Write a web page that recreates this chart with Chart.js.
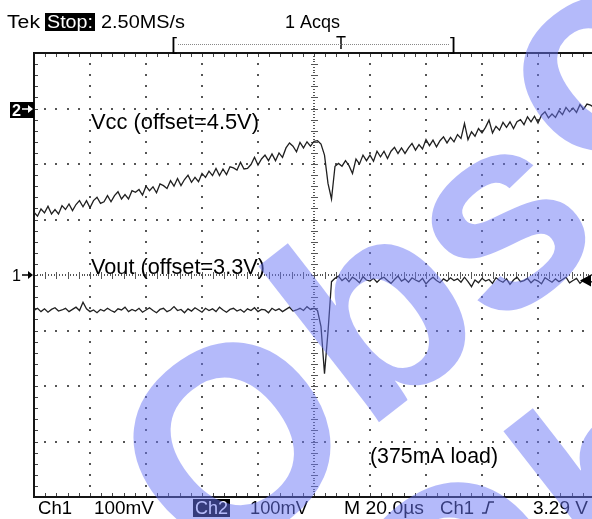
<!DOCTYPE html>
<html>
<head>
<meta charset="utf-8">
<title>Vcc / Vout load step</title>
<script src="https://cdn.jsdelivr.net/npm/chart.js@4.4.1/dist/chart.umd.min.js"></script>
<style>
  html, body { margin: 0; padding: 0; background: #fff; overflow: hidden; }
  #wrap { position: relative; width: 592px; height: 519px; overflow: hidden; }
  #scope { position: absolute; left: 0; top: 0; }
</style>
</head>
<body>
<div id="wrap"><canvas id="scope" width="600" height="519"></canvas></div>
<script>
// scope settings (20us/div, 100mV/div, 10 x 8 divisions)
let timePerDivUs = 20, mvPerDiv = 100
let firstSampleUs = -100, sampleStepUs = 1.25
let ch2PositionMv = 300      // Vcc trace marker "2" sits 3 div above centre
let triggerLevelMv = -10     // 3.29 V on ch1 (offset 3.3 V)

// Vcc, mV relative to 4.5 V
let vccMv = [
  -187,-194,-181,-188,-176,-190,-182,-190,-175,-182,
  -172,-184,-173,-166,-177,-166,-179,-166,-160,-171,
  -168,-157,-168,-157,-150,-163,-155,-163,-148,-151,
  -146,-156,-140,-148,-141,-152,-136,-139,-144,-130,
  -140,-126,-139,-128,-120,-133,-124,-132,-117,-124,
  -113,-121,-108,-121,-109,-119,-105,-107,-111,-97,
  -109,-108,-101,-88,-102,-91,-84,-94,-82,-94,
  -80,-88,-71,-62,-68,-78,-61,-71,-60,-68,
  -59,-58,-64,-84,-135,-163,-104,-99,-104,-94,
  -103,-117,-91,-100,-84,-94,-84,-95,-77,-87,
  -77,-90,-77,-70,-81,-71,-81,-71,-63,-75,
  -65,-73,-56,-67,-57,-69,-58,-51,-62,-52,
  -60,-47,-54,-27,-56,-42,-50,-36,-44,-34,
  -21,-44,-32,-39,-25,-34,-24,-36,-24,-20,
  -29,-15,-24,-14,-26,-12,-6,-17,-10,-16,
  -4,-11,2,-6,1,-7,7,-1,8,6,2
]
// Vout, mV relative to 3.3 V
let voutMv = [
  -64,-60,-66,-61,-67,-62,-59,-65,-63,-60,
  -66,-62,-58,-64,-49,-61,-66,-63,-68,-62,
  -65,-60,-64,-67,-61,-63,-58,-66,-62,-65,
  -60,-67,-63,-59,-64,-68,-62,-60,-66,-63,
  -57,-64,-62,-68,-61,-65,-59,-63,-67,-60,
  -64,-61,-66,-58,-63,-67,-62,-60,-65,-62,
  -67,-61,-64,-59,-66,-62,-63,-68,-60,-64,
  -61,-66,-62,-58,-65,-63,-60,-64,-57,-62,
  -60,-64,-93,-178,-102,-12,-6,-2,-10,-5,
  -12,-4,-8,-14,-3,-9,-11,-6,-13,-7,
  -4,-10,-15,-8,-2,-11,-7,-13,-5,-9,
  -12,-6,-16,-9,-4,-10,-14,-7,-11,-5,
  -10,-7,-13,-4,-12,-21,-9,-14,-6,-11,
  -8,-15,-5,-10,-13,-7,-17,-9,-4,-12,
  -10,-6,-14,-8,-11,-16,-5,-9,-13,-7,
  -12,-8,-4,-14,-10,-6,-15,-9,-11,-13,-10
]

let headerTexts = ['Tek', 'Stop:', '2.50MS/s', '1 Acqs']
let footerTexts = ['Ch1', '100mV', 'Ch2', '100mV', 'M 20.0\u00b5s', 'Ch1', '3.29 V']
let traceNames = ['Vcc (offset=4.5V)', 'Vout (offset=3.3V)', '(375mA load)']

let traceColor = '#202020'
let scopeFont = "'Liberation Sans', Arial, sans-serif"

function toPoints(values, shift) {
  return values.map((v, i) => ({ x: firstSampleUs + i * sampleStepUs, y: v + shift }))
}

// squeeze/stretch a text so that it covers exactly `width` px
function fitText(ctx, text, x, base, width) {
  let w = ctx.measureText(text).width
  ctx.save()
  ctx.translate(x, base)
  ctx.scale(width / w, 1)
  ctx.fillText(text, 0, 0)
  ctx.restore()
}

// small right arrow used by the channel markers
function arrow(ctx, x, y) {
  ctx.fillRect(x, y - 0.75, 8, 1.5)
  ctx.beginPath()
  ctx.moveTo(x + 11, y); ctx.lineTo(x + 6, y - 4); ctx.lineTo(x + 6, y + 4)
  ctx.closePath()
  ctx.fill()
}

let whiteBackground = {
  id: 'whiteBackground',
  beforeDraw(chart) {
    let ctx = chart.ctx
    ctx.save()
    ctx.fillStyle = '#fff'
    ctx.fillRect(0, 0, chart.width, chart.height)
    ctx.restore()
  }
}

let scopeGrid = {
  id: 'scopeGrid',
  beforeDatasetsDraw(chart) {
    let { ctx, chartArea: a, scales } = chart
    let px = t => Math.round(scales.x.getPixelForValue(t))
    let py = v => Math.round(scales.y.getPixelForValue(v))
    let minorT = timePerDivUs / 5, minorV = mvPerDiv / 5
    let nx = 25, ny = 20          // minor steps from centre to edge
    ctx.save()
    ctx.fillStyle = '#555'
    // dotted major lines, one dot per minor division
    for (let d = -4; d <= 4; d++) {
      if (d === 0) continue
      let gx = px(d * timePerDivUs)
      for (let k = -ny + 1; k < ny; k++) ctx.fillRect(gx - 1, py(k * minorV) - 1, 2, 2)
    }
    for (let d = -3; d <= 3; d++) {
      if (d === 0) continue
      let gy = py(d * mvPerDiv)
      for (let k = -nx + 1; k < nx; k++) ctx.fillRect(px(k * minorT) - 1, gy - 1, 2, 2)
    }
    // centre cross: fine dots plus ticks
    let cx = px(0), cy = py(0)
    for (let k = -ny * 4; k <= ny * 4; k++) ctx.fillRect(cx - 1, py(k * minorV / 4), 2, 1)
    for (let k = -nx * 4; k <= nx * 4; k++) ctx.fillRect(px(k * minorT / 4), cy - 1, 1, 2)
    for (let k = -ny; k <= ny; k++) ctx.fillRect(cx - 3, py(k * minorV), 7, 1)
    for (let k = -nx; k <= nx; k++) ctx.fillRect(px(k * minorT), cy - 3, 1, 7)
    // frame with inner ticks
    ctx.fillStyle = '#151515'
    let L = Math.round(a.left), T = Math.round(a.top), B = Math.round(a.bottom)
    let R = Math.round(a.right)
    ctx.fillRect(L - 1, T - 1, R - L + 2, 2)
    ctx.fillRect(L - 1, B - 1, R - L + 2, 2)
    ctx.fillRect(L - 1, T - 1, 2, B - T + 2)
    ctx.fillStyle = '#444'
    for (let k = -nx + 1; k < nx; k++) {
      ctx.fillRect(px(k * minorT), T + 1, 1, 3)
      ctx.fillRect(px(k * minorT), B - 4, 1, 3)
    }
    for (let k = -ny + 1; k < ny; k++) ctx.fillRect(L + 1, py(k * minorV), 3, 1)
    ctx.restore()
  }
}

let scopeTexts = {
  id: 'scopeTexts',
  afterDatasetsDraw(chart) {
    let { ctx, scales } = chart
    let y = scales.y
    ctx.save()
    ctx.textAlign = 'left'
    ctx.textBaseline = 'alphabetic'
    ctx.fillStyle = '#000'
    ctx.font = '18px ' + scopeFont
    // header
    fitText(ctx, headerTexts[0], 7, 28, 33)
    ctx.fillRect(45, 13, 50, 18)
    ctx.fillStyle = '#fff'
    fitText(ctx, headerTexts[1], 47, 28, 46)
    ctx.fillStyle = '#000'
    fitText(ctx, headerTexts[2], 101, 28, 84)
    fitText(ctx, headerTexts[3], 285, 28, 55)
    // record bracket with trigger point
    fitText(ctx, '[', 171, 50, 6)
    fitText(ctx, ']', 450, 50, 6)
    fitText(ctx, 'T', 336, 49, 10)
    ctx.fillStyle = '#888'
    for (let xx = 178; xx < 450; xx += 2) ctx.fillRect(xx, 44, 1, 1)
    ctx.fillStyle = '#000'
    // footer
    fitText(ctx, footerTexts[0], 38, 514, 34)
    fitText(ctx, footerTexts[1], 94, 514, 60)
    ctx.fillRect(193, 499, 37, 18)
    ctx.fillStyle = '#fff'
    fitText(ctx, footerTexts[2], 195, 514, 33)
    ctx.fillStyle = '#000'
    fitText(ctx, footerTexts[3], 250, 514, 58)
    fitText(ctx, footerTexts[4], 344, 514, 80)
    fitText(ctx, footerTexts[5], 440, 514, 34)
    fitText(ctx, footerTexts[6], 533, 514, 55)
    // rising edge icon
    ctx.strokeStyle = '#000'
    ctx.lineWidth = 1.6
    ctx.beginPath()
    ctx.moveTo(482, 513); ctx.lineTo(486, 513); ctx.lineTo(489, 502); ctx.lineTo(494, 502)
    ctx.stroke()
    // trace names
    ctx.font = '22px ' + scopeFont
    fitText(ctx, traceNames[0], 91, 129, 168)
    fitText(ctx, traceNames[1], 91, 274, 174)
    fitText(ctx, traceNames[2], 370, 463, 128)
    // channel markers
    let y2 = Math.round(y.getPixelForValue(ch2PositionMv))
    ctx.fillRect(10, y2 - 7, 24, 16)
    ctx.fillStyle = '#fff'
    ctx.font = 'bold 17px ' + scopeFont
    fitText(ctx, '2', 12, y2 + 7, 9)
    arrow(ctx, 22, y2)
    ctx.fillStyle = '#000'
    let y1 = Math.round(y.getPixelForValue(0))
    ctx.font = '17px ' + scopeFont
    fitText(ctx, '1', 12, y1 + 6, 9)
    arrow(ctx, 22, y1)
    // trigger level marker at right edge
    let yt = y.getPixelForValue(triggerLevelMv)
    ctx.beginPath()
    ctx.moveTo(580, yt); ctx.lineTo(591, yt - 6); ctx.lineTo(591, yt + 6)
    ctx.closePath()
    ctx.fill()
    ctx.restore()
  }
}

// translucent diagonal "Obsolete" stamp over the whole picture
let watermark = {
  id: 'watermark',
  afterDraw(chart) {
    let ctx = chart.ctx
    let size = 272
    let letters = [
      { ch: 'O', cx: 230, cy: 438, h: 0.36 },
      { ch: 'b', cx: 370, cy: 305, h: 0.36 },
      { ch: 's', cx: 508, cy: 232, h: 0.26 },
      { ch: 'o', cx: 600, cy: 75, h: 0.26 },
      { ch: 'O', cx: 455, cy: 578, h: 0.36 },
      { ch: 'b', cx: 615, cy: 470, h: 0.36 }
    ]
    ctx.save()
    ctx.fillStyle = 'rgba(105,117,245,0.5)'
    ctx.font = 'bold ' + size + 'px ' + scopeFont
    ctx.textAlign = 'center'
    ctx.textBaseline = 'alphabetic'
    letters.forEach(l => {
      ctx.save()
      ctx.translate(l.cx, l.cy)
      ctx.rotate(-38 * Math.PI / 180)
      ctx.fillText(l.ch, 0, l.h * size)
      ctx.restore()
    })
    ctx.restore()
  }
}

let scopeChart = new Chart(document.querySelector('#scope'), {
  type: 'line',
  data: {
    datasets: [
      { label: 'Vcc', data: toPoints(vccMv, ch2PositionMv), borderColor: traceColor, borderWidth: 1.3, pointRadius: 0, tension: 0 },
      { label: 'Vout', data: toPoints(voutMv, 0), borderColor: traceColor, borderWidth: 1.3, pointRadius: 0, tension: 0 }
    ]
  },
  options: {
    responsive: false,
    animation: false,
    devicePixelRatio: 1,
    layout: { padding: { left: 34, top: 53, right: 6, bottom: 22 } },
    scales: {
      x: { type: 'linear', min: -100, max: 100, display: false },
      y: { type: 'linear', min: -400, max: 400, display: false }
    },
    plugins: { legend: { display: false }, tooltip: { enabled: false } }
  },
  plugins: [whiteBackground, scopeGrid, scopeTexts, watermark]
})
</script>
</body>
</html>
